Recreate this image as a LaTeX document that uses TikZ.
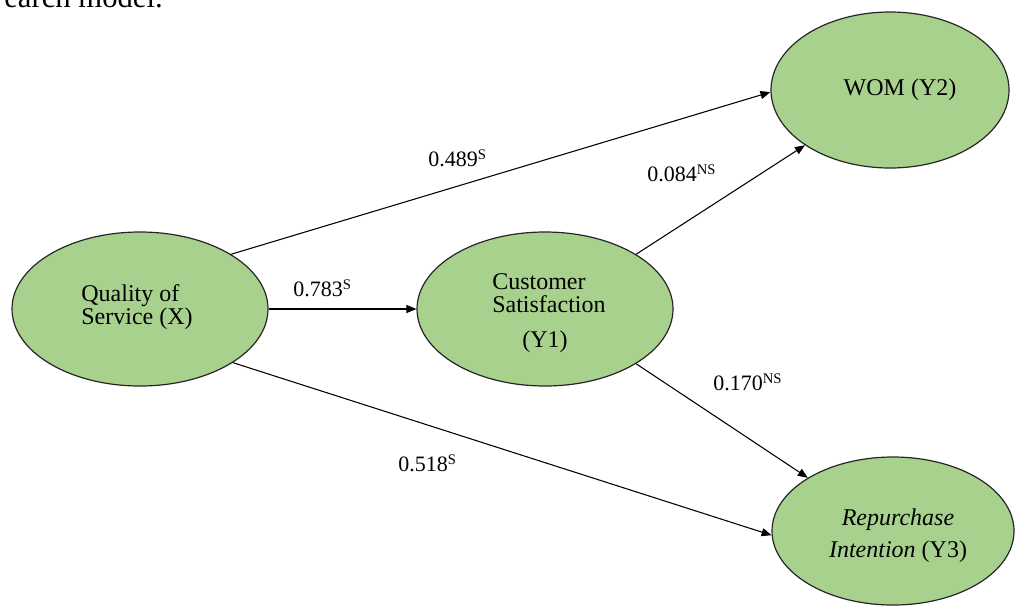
\documentclass[tikz,border=0pt]{standalone}
\usepackage{fontspec}
\setmainfont{Liberation Serif}
\usetikzlibrary{shapes.geometric,arrows.meta}
\definecolor{ellgreen}{RGB}{169,209,142}
\newcommand{\sps}[1]{\raisebox{4.6pt}{\fontsize{11}{11}\selectfont #1}}
\begin{document}
\begin{tikzpicture}[x=0.75pt,y=-0.75pt,
  ell/.style={ellipse,draw=black!85,line width=0.9pt,fill=ellgreen,inner sep=0pt},
  txt/.style={inner sep=0pt,font=\fontsize{18}{17.5}\selectfont},
  lab/.style={inner sep=0pt,font=\fontsize{16.5}{18}\selectfont,anchor=base west},
  arr/.style={line width=0.8pt,-{Triangle[length=7.5pt,width=6pt]}},
  ln/.style={line width=0.8pt}]
\useasboundingbox (0,0) rectangle (1016,608);
\node[inner sep=0pt,anchor=base east,font=\fontsize{23}{25}\selectfont] (cap) at (163,7) {earch model.};
% ellipses
\node[ell,minimum width=192pt,minimum height=115.5pt] (X) at (140,309) {};
\node[ell,minimum width=192pt,minimum height=115.5pt] (Y1) at (545,309) {};
\node[ell,minimum width=178.5pt,minimum height=117pt] (Y2) at (890,90) {};
\node[ell,minimum width=181.5pt,minimum height=111pt] (Y3) at (893,531) {};
% texts
\node[txt,align=left] (tX) at (137,307) {Quality of\\Service (X)};
\node[txt,align=left,anchor=west] (tY1a) at (492,293) {Customer\\Satisfaction};
\node[txt] (tY1b) at (545,342) {(Y1)};
\node[txt] (tY2) at (900,90) {WOM (Y2)};
\node[txt,align=center,font=\fontsize{18}{24}\selectfont] (tY3) at (898,536) {\textit{Repurchase}\\\textit{Intention} (Y3)};
% connectors
\draw[arr] (X.31) -- (Y2.181);
\draw[arr] (X.east) -- (Y1.west);
\draw[arr] (X.-30) -- (Y3.182);
\draw[arr] (Y1.31) -- (Y2.213.5);
\draw[arr] (Y1.-31.6) -- (Y3.148);
% labels
\node[lab] (l1) at (428,166) {0.489\sps{S}};
\node[lab] (l2) at (647,181) {0.084\sps{NS}};
\node[lab] (l3) at (293,296) {0.783\sps{S}};
\node[lab] (l4) at (713,390) {0.170\sps{NS}};
\node[lab] (l5) at (398,471) {0.518\sps{S}};
\end{tikzpicture}
\end{document}
